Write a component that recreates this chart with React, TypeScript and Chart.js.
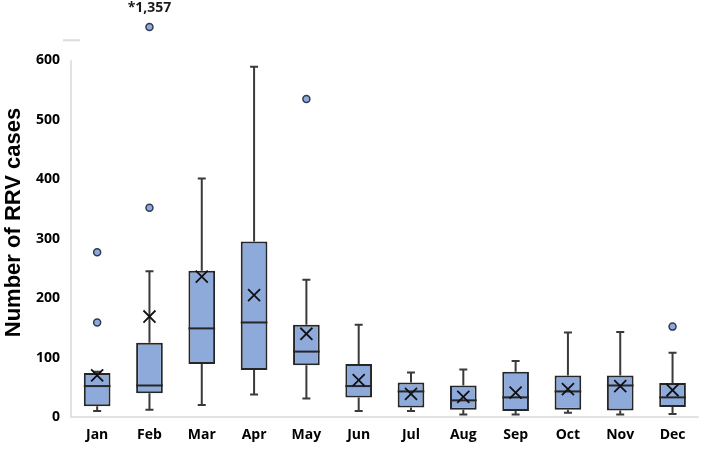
import React, { useEffect, useRef } from "react";
import { Chart, registerables } from "chart.js";

Chart.register(...registerables);

const months = ["Jan", "Feb", "Mar", "Apr", "May", "Jun", "Jul", "Aug", "Sep", "Oct", "Nov", "Dec"];
const q1 = [18, 40, 89, 79, 87, 33, 16, 12, 10, 12, 11, 17];
const q3 = [74, 125, 246, 295, 155, 89, 58, 53, 76, 70, 70, 57];
const medians = [52, 53, 149, 159, 110, 52, 43, 28, 33, 43, 53, 33];
const mins = [10, 12, 20, 38, 31, 10, 10, 4, 4, 7, 4, 5];
const maxs = [76, 245, 401, 589, 231, 155, 75, 80, 94, 142, 143, 108];
const means = [70, 169, 236, 205, 140, 62, 39, 34, 41, 47, 52, 45];
const outlierMonths = ["Jan", "Jan", "Feb", "May", "Dec"];
const outlierValues = [277, 159, 352, 535, 152];
// Extreme outlier shown on a broken axis
const extremeMonth = "Feb";
const extremeValue = 1357;
const extremePlotAt = 656;
const yTicks = [0, 100, 200, 300, 400, 500, 600];

const FONT = "'Open Sans', Lato, sans-serif";

const boxPlugin = {
  id: "boxExtras",
  beforeDatasetsDraw(chart: any) {
    const { ctx, chartArea } = chart;
    const y = chart.scales.y;
    ctx.save();
    ctx.strokeStyle = "#d9d9d9";
    ctx.lineWidth = 1.5;
    ctx.beginPath();
    ctx.moveTo(chartArea.left, y.getPixelForValue(yTicks[yTicks.length - 1]));
    ctx.lineTo(chartArea.left, y.getPixelForValue(0));
    ctx.lineTo(chartArea.right, y.getPixelForValue(0));
    ctx.stroke();
    // axis break marker
    ctx.lineWidth = 2;
    ctx.strokeStyle = "#dcdcdc";
    const by = y.getPixelForValue(yTicks[yTicks.length - 1]) - 20;
    ctx.beginPath();
    ctx.moveTo(chartArea.left - 8, by);
    ctx.lineTo(chartArea.left + 9, by);
    ctx.stroke();
    ctx.restore();
  },
  afterDatasetDraw(chart: any, args: any) {
    if (args.index !== 0) return;
    const { ctx } = chart;
    const y = chart.scales.y;
    const meta = chart.getDatasetMeta(0);
    ctx.save();
    ctx.lineCap = "butt";
    meta.data.forEach((bar: any, i: number) => {
      const x = bar.x;
      const w = bar.width;
      const cap = 4;
      ctx.strokeStyle = "#3a3a3a";
      ctx.lineWidth = 2;
      ctx.beginPath();
      ctx.moveTo(x, y.getPixelForValue(q3[i]));
      ctx.lineTo(x, y.getPixelForValue(maxs[i]));
      ctx.moveTo(x - cap, y.getPixelForValue(maxs[i]));
      ctx.lineTo(x + cap, y.getPixelForValue(maxs[i]));
      ctx.moveTo(x, y.getPixelForValue(q1[i]));
      ctx.lineTo(x, y.getPixelForValue(mins[i]));
      ctx.moveTo(x - cap, y.getPixelForValue(mins[i]));
      ctx.lineTo(x + cap, y.getPixelForValue(mins[i]));
      ctx.stroke();
      ctx.strokeStyle = "#262626";
      ctx.beginPath();
      ctx.moveTo(x - w / 2, y.getPixelForValue(medians[i]));
      ctx.lineTo(x + w / 2, y.getPixelForValue(medians[i]));
      ctx.stroke();
    });
    ctx.restore();
  },
  afterDraw(chart: any) {
    const { ctx } = chart;
    const xs = chart.scales.x;
    const y = chart.scales.y;
    ctx.save();
    ctx.fillStyle = "#1a1a1a";
    ctx.font = `bold 14px ${FONT}`;
    ctx.textAlign = "center";
    ctx.textBaseline = "middle";
    ctx.fillText(
      "*" + extremeValue.toLocaleString("en-US"),
      xs.getPixelForValue(months.indexOf(extremeMonth)),
      y.getPixelForValue(extremePlotAt) - 19
    );
    ctx.font = "bold 22px 'Liberation Sans', Arial, sans-serif";
    ctx.fillStyle = "#000";
    ctx.translate(20, 222.5);
    ctx.rotate(-Math.PI / 2);
    ctx.textAlign = "center";
    ctx.textBaseline = "alphabetic";
    ctx.fillText("Number of RRV cases", 0, 0);
    ctx.restore();
  },
};

export default function App() {
  const ref = useRef<HTMLCanvasElement>(null);
  useEffect(() => {
    document.body.style.margin = "0";
    if (!ref.current) return;
    const chart = new Chart(ref.current, {
      type: "bar",
      data: {
        labels: months,
        datasets: [
          {
            type: "bar",
            data: q1.map((v, i) => [v, q3[i]]) as any,
            backgroundColor: "#8eaadb",
            borderColor: "#262626",
            borderWidth: 2,
            borderSkipped: false,
            barPercentage: 0.51,
            categoryPercentage: 1,
            order: 3,
          },
          {
            type: "line",
            data: outlierMonths
              .map((m, i) => ({ x: m, y: outlierValues[i] }))
              .concat([{ x: extremeMonth, y: extremePlotAt }]) as any,
            showLine: false,
            pointStyle: "circle",
            pointRadius: 3.5,
            pointBackgroundColor: "#8eaadb",
            pointBorderColor: "#2f3a55",
            pointBorderWidth: 1.5,
            order: 2,
          },
          {
            type: "line",
            data: means,
            showLine: false,
            pointStyle: "crossRot",
            pointRadius: 8.5,
            pointBorderColor: "#111",
            pointBackgroundColor: "rgba(0,0,0,0)",
            pointBorderWidth: 1.8,
            order: 1,
          },
        ],
      },
      options: {
        animation: false,
        responsive: false,
        maintainAspectRatio: false,
        layout: { padding: { top: 2, right: 2, left: 0, bottom: 0 } },
        plugins: { legend: { display: false }, tooltip: { enabled: false } },
        scales: {
          x: {
            offset: true,
            grid: { display: false, drawTicks: false },
            border: { display: false },
            ticks: {
              color: "#000",
              font: { family: FONT, size: 14, weight: "bold" },
              padding: 10,
            },
            afterFit: (s: any) => {
              s.height = 32;
              s.paddingLeft = 0;
              s.paddingRight = 0;
            },
          },
          y: {
            min: 0,
            max: 684,
            grid: { display: false, drawTicks: false },
            border: { display: false },
            ticks: {
              color: "#000",
              font: { family: FONT, size: 14, weight: "bold" },
              padding: 11,
            },
            afterBuildTicks: (s: any) => {
              s.ticks = yTicks.map((v) => ({ value: v }));
            },
            afterFit: (s: any) => {
              s.width = 71;
              s.paddingTop = 0;
              s.paddingBottom = 0;
            },
          },
        },
      },
      plugins: [boxPlugin],
    });
    return () => chart.destroy();
  }, []);
  return (
    <div style={{ width: 709, height: 449 }}>
      <canvas ref={ref} width={709} height={449} style={{ width: 709, height: 449 }} />
    </div>
  );
}
